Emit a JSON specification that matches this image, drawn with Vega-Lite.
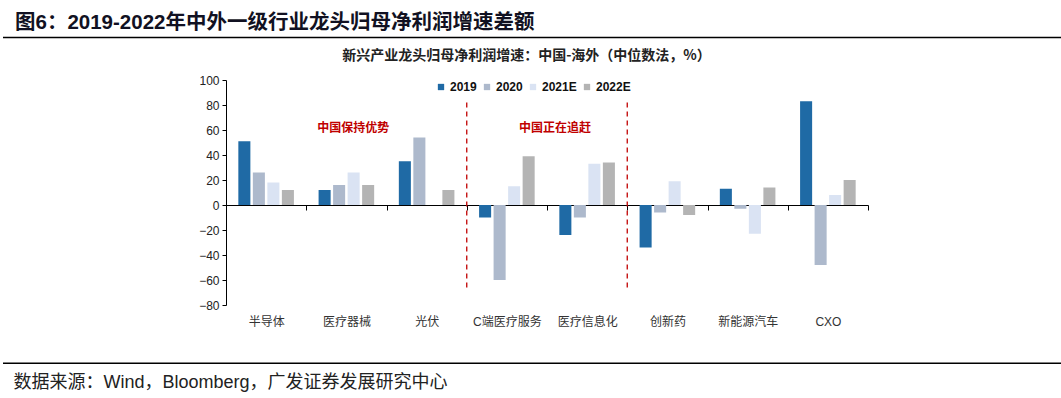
{
  "$schema": "https://vega.github.io/schema/vega-lite/v6.json",
  "width": 642,
  "height": 225,
  "autosize": {"type": "none"},
  "padding": {"left": 226, "top": 80, "right": 193, "bottom": 93},
  "background": "white",
  "title": {
    "text": "图6：2019-2022年中外一级行业龙头归母净利润增速差额",
    "anchor": "start",
    "frame": "group",
    "dx": -211,
    "offset": 3,
    "font": "Liberation Sans, Noto Sans CJK SC",
    "fontSize": 20.5,
    "fontWeight": "bold",
    "color": "#111122"
  },
  "config": {
    "view": {"stroke": null},
    "axis": {"grid": false},
    "font": "Liberation Sans"
  },
  "datasets": {
    "bars": [
      {"cat": "半导体", "series": "2019", "value": 51},
      {"cat": "半导体", "series": "2020", "value": 26},
      {"cat": "半导体", "series": "2021E", "value": 18},
      {"cat": "半导体", "series": "2022E", "value": 12},
      {"cat": "医疗器械", "series": "2019", "value": 12},
      {"cat": "医疗器械", "series": "2020", "value": 16},
      {"cat": "医疗器械", "series": "2021E", "value": 26},
      {"cat": "医疗器械", "series": "2022E", "value": 16},
      {"cat": "光伏", "series": "2019", "value": 35},
      {"cat": "光伏", "series": "2020", "value": 54},
      {"cat": "光伏", "series": "2022E", "value": 12},
      {"cat": "C端医疗服务", "series": "2019", "value": -10},
      {"cat": "C端医疗服务", "series": "2020", "value": -60},
      {"cat": "C端医疗服务", "series": "2021E", "value": 15},
      {"cat": "C端医疗服务", "series": "2022E", "value": 39},
      {"cat": "医疗信息化", "series": "2019", "value": -24},
      {"cat": "医疗信息化", "series": "2020", "value": -10},
      {"cat": "医疗信息化", "series": "2021E", "value": 33},
      {"cat": "医疗信息化", "series": "2022E", "value": 34},
      {"cat": "创新药", "series": "2019", "value": -34},
      {"cat": "创新药", "series": "2020", "value": -6},
      {"cat": "创新药", "series": "2021E", "value": 19},
      {"cat": "创新药", "series": "2022E", "value": -8},
      {"cat": "新能源汽车", "series": "2019", "value": 13},
      {"cat": "新能源汽车", "series": "2020", "value": -3},
      {"cat": "新能源汽车", "series": "2021E", "value": -23},
      {"cat": "新能源汽车", "series": "2022E", "value": 14},
      {"cat": "CXO", "series": "2019", "value": 83},
      {"cat": "CXO", "series": "2020", "value": -48},
      {"cat": "CXO", "series": "2021E", "value": 8},
      {"cat": "CXO", "series": "2022E", "value": 20}
    ],
    "dividers": [{"cat": "光伏", "top": 82, "bottom": -68}, {"cat": "医疗信息化", "top": 82, "bottom": -68}],
    "note1": [{"cat": "医疗器械", "label": "中国保持优势", "v": 62}],
    "note2": [{"cat": "医疗信息化", "label": "中国正在追赶", "v": 62}],
    "hlines": [{"v": 134}, {"v": -126.5}]
  },
  "layer": [
    {
      "data": {"name": "bars"},
      "mark": {"type": "bar"},
      "encoding": {
        "x": {
          "field": "cat",
          "type": "nominal",
          "sort": null,
          "scale": {"domain": ["半导体", "医疗器械", "光伏", "C端医疗服务", "医疗信息化", "创新药", "新能源汽车", "CXO"], "paddingInner": 0, "paddingOuter": 0},
          "axis": {
            "orient": "bottom",
            "offset": -100,
            "domainColor": "#000000",
            "domainWidth": 1.2,
            "ticks": true,
            "tickBand": "extent",
            "tickColor": "#000000",
            "tickSize": 5,
            "labelAngle": 0,
            "labelPadding": 106,
            "labelOverlap": false,
            "labelFont": "Liberation Sans, Noto Sans CJK SC",
            "labelFontSize": 12,
            "labelColor": "#333333",
            "title": "新兴产业龙头归母净利润增速：中国-海外（中位数法，%）",
            "titleFont": "Noto Sans CJK SC",
            "titleFontSize": 14,
            "titleFontWeight": "bold",
            "titleColor": "#222222",
            "titleBaseline": "middle",
            "titleX": 300,
            "titleY": -150
          }
        },
        "xOffset": {
          "field": "series",
          "type": "nominal",
          "scale": {"domain": ["2019", "2020", "2021E", "2022E"], "paddingInner": 0.17, "paddingOuter": 0.85}
        },
        "y": {
          "field": "value",
          "type": "quantitative",
          "scale": {"domain": [-80, 100], "nice": false, "zero": false},
          "axis": {
            "values": [-80, -60, -40, -20, 0, 20, 40, 60, 80, 100],
            "labelOverlap": false,
            "domainColor": "#000000",
            "tickColor": "#000000",
            "tickSize": 4,
            "labelFont": "Liberation Sans",
            "labelFontSize": 12,
            "labelColor": "#222222",
            "labelPadding": 3,
            "title": "数据来源：Wind，Bloomberg，广发证券发展研究中心",
            "titleFont": "Liberation Sans, Noto Sans CJK SC",
            "titleFontSize": 18,
            "titleFontWeight": "normal",
            "titleColor": "#222222",
            "titleAngle": 0,
            "titleAlign": "left",
            "titleBaseline": "middle",
            "titleX": -213,
            "titleY": 302
          }
        },
        "color": {
          "field": "series",
          "type": "nominal",
          "scale": {"domain": ["2019", "2020", "2021E", "2022E"], "range": ["#1f6aa5", "#adb9cc", "#dae3f3", "#b4b4b4"]},
          "legend": {
            "title": null,
            "orient": "none",
            "legendX": 209,
            "legendY": 1,
            "direction": "horizontal",
            "columns": 4,
            "columnPadding": 4,
            "symbolType": "square",
            "symbolSize": 40,
            "symbolStrokeWidth": 0,
            "labelOffset": 3,
            "labelFont": "Liberation Sans",
            "labelFontSize": 12,
            "labelFontWeight": "bold",
            "labelColor": "#111111"
          }
        }
      }
    },
    {
      "data": {"name": "dividers"},
      "mark": {"type": "rule", "color": "#c00000", "strokeWidth": 1.3, "strokeDash": [5, 4]},
      "encoding": {
        "x": {
          "field": "cat",
          "type": "nominal",
          "bandPosition": 1,
          "sort": null,
          "scale": {"domain": ["半导体", "医疗器械", "光伏", "C端医疗服务", "医疗信息化", "创新药", "新能源汽车", "CXO"]}
        },
        "y": {"field": "top", "type": "quantitative", "axis": {
            "values": [-80, -60, -40, -20, 0, 20, 40, 60, 80, 100],
            "labelOverlap": false,
            "domainColor": "#000000",
            "tickColor": "#000000",
            "tickSize": 4,
            "labelFont": "Liberation Sans",
            "labelFontSize": 12,
            "labelColor": "#222222",
            "labelPadding": 3,
            "title": "数据来源：Wind，Bloomberg，广发证券发展研究中心",
            "titleFont": "Liberation Sans, Noto Sans CJK SC",
            "titleFontSize": 18,
            "titleFontWeight": "normal",
            "titleColor": "#222222",
            "titleAngle": 0,
            "titleAlign": "left",
            "titleBaseline": "middle",
            "titleX": -213,
            "titleY": 302
          }},
        "y2": {"field": "bottom"}
      }
    },
    {
      "data": {"name": "note1"},
      "mark": {"type": "text", "color": "#c00000", "font": "Noto Sans CJK SC", "fontSize": 12, "fontWeight": "bold", "align": "center", "baseline": "middle"},
      "encoding": {
        "x": {"field": "cat", "type": "nominal", "bandPosition": 0.585, "sort": null, "scale": {"domain": ["半导体", "医疗器械", "光伏", "C端医疗服务", "医疗信息化", "创新药", "新能源汽车", "CXO"]}},
        "y": {"field": "v", "type": "quantitative", "axis": {
            "values": [-80, -60, -40, -20, 0, 20, 40, 60, 80, 100],
            "labelOverlap": false,
            "domainColor": "#000000",
            "tickColor": "#000000",
            "tickSize": 4,
            "labelFont": "Liberation Sans",
            "labelFontSize": 12,
            "labelColor": "#222222",
            "labelPadding": 3,
            "title": "数据来源：Wind，Bloomberg，广发证券发展研究中心",
            "titleFont": "Liberation Sans, Noto Sans CJK SC",
            "titleFontSize": 18,
            "titleFontWeight": "normal",
            "titleColor": "#222222",
            "titleAngle": 0,
            "titleAlign": "left",
            "titleBaseline": "middle",
            "titleX": -213,
            "titleY": 302
          }},
        "text": {"field": "label"}
      }
    },
    {
      "data": {"name": "note2"},
      "mark": {"type": "text", "color": "#c00000", "font": "Noto Sans CJK SC", "fontSize": 12, "fontWeight": "bold", "align": "center", "baseline": "middle"},
      "encoding": {
        "x": {"field": "cat", "type": "nominal", "bandPosition": 0.1, "sort": null, "scale": {"domain": ["半导体", "医疗器械", "光伏", "C端医疗服务", "医疗信息化", "创新药", "新能源汽车", "CXO"]}},
        "y": {"field": "v", "type": "quantitative", "axis": {
            "values": [-80, -60, -40, -20, 0, 20, 40, 60, 80, 100],
            "labelOverlap": false,
            "domainColor": "#000000",
            "tickColor": "#000000",
            "tickSize": 4,
            "labelFont": "Liberation Sans",
            "labelFontSize": 12,
            "labelColor": "#222222",
            "labelPadding": 3,
            "title": "数据来源：Wind，Bloomberg，广发证券发展研究中心",
            "titleFont": "Liberation Sans, Noto Sans CJK SC",
            "titleFontSize": 18,
            "titleFontWeight": "normal",
            "titleColor": "#222222",
            "titleAngle": 0,
            "titleAlign": "left",
            "titleBaseline": "middle",
            "titleX": -213,
            "titleY": 302
          }},
        "text": {"field": "label"}
      }
    },
    {
      "data": {"name": "hlines"},
      "mark": {"type": "rule", "color": "#000000", "strokeWidth": 1.5, "clip": false},
      "encoding": {
        "y": {"field": "v", "type": "quantitative", "axis": {
            "values": [-80, -60, -40, -20, 0, 20, 40, 60, 80, 100],
            "labelOverlap": false,
            "domainColor": "#000000",
            "tickColor": "#000000",
            "tickSize": 4,
            "labelFont": "Liberation Sans",
            "labelFontSize": 12,
            "labelColor": "#222222",
            "labelPadding": 3,
            "title": "数据来源：Wind，Bloomberg，广发证券发展研究中心",
            "titleFont": "Liberation Sans, Noto Sans CJK SC",
            "titleFontSize": 18,
            "titleFontWeight": "normal",
            "titleColor": "#222222",
            "titleAngle": 0,
            "titleAlign": "left",
            "titleBaseline": "middle",
            "titleX": -213,
            "titleY": 302
          }},
        "x": {"value": -223},
        "x2": {"value": 835}
      }
    }
  ]
}
